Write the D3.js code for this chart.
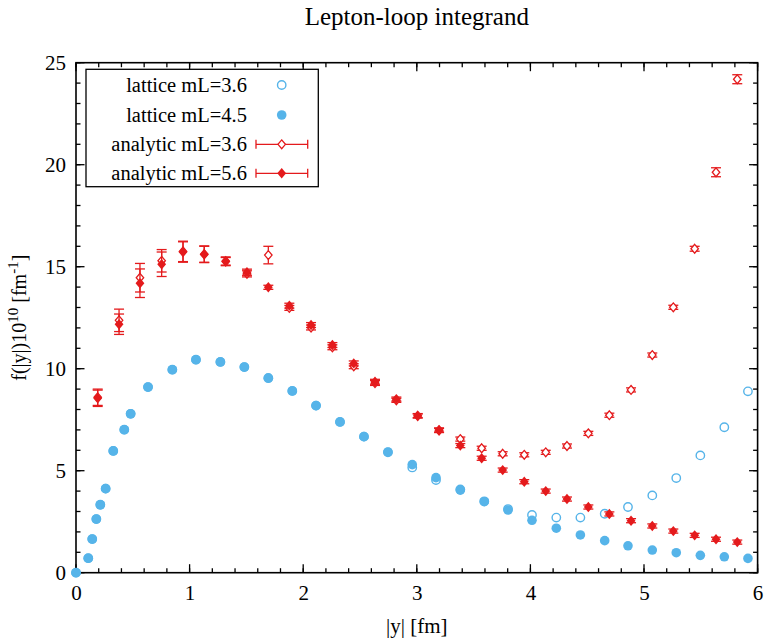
<!DOCTYPE html>
<html><head><meta charset="utf-8">
<script src="https://cdn.jsdelivr.net/npm/d3@7"></script>
<style>body{margin:0;background:#fff}svg{display:block}text{font-family:"Liberation Serif","DejaVu Serif",serif}</style>
</head><body><svg id="c" width="764" height="639"></svg>
<script>
// Lattice data
const latX = [0,0.108,0.143,0.179,0.214,0.261,0.328,0.425,0.481,0.634,0.848,1.056,1.271,1.482,1.693,1.904,2.113,2.324,2.535,2.746,2.960,3.169,3.383,3.594,3.803,4.014,4.228,4.44,4.654,4.859,5.073,5.284,5.496,5.707,5.915];
const lat45 = [0,0.71,1.65,2.63,3.33,4.12,5.97,7.01,7.79,9.10,9.95,10.44,10.33,10.08,9.53,8.91,8.19,7.39,6.67,5.92,5.30,4.66,4.05,3.48,3.07,2.57,2.18,1.85,1.57,1.32,1.11,0.98,0.85,0.78,0.70];
const lat36 = [0,0.71,1.65,2.63,3.33,4.12,5.97,7.01,7.79,9.10,9.95,10.44,10.33,10.08,9.55,8.91,8.19,7.39,6.67,5.90,5.16,4.54,4.08,3.50,3.12,2.83,2.70,2.70,2.89,3.22,3.79,4.64,5.75,7.13,8.89];
// Analytic data
const anX = [0.191,0.379,0.563,0.754,0.942,1.129,1.318,1.505,1.693,1.878,2.069,2.257,2.445,2.632,2.82,3.008,3.196,3.383,3.571,3.756,3.946,4.135,4.322,4.51,4.695,4.886,5.073,5.258,5.446,5.634,5.821];
const an36 = [8.6,12.37,14.46,15.29,15.75,15.6,15.25,14.65,15.57,12.98,12.02,11.05,10.12,9.3,8.45,7.68,6.97,6.55,6.10,5.83,5.78,5.90,6.21,6.83,7.72,8.96,10.67,13.01,15.88,19.63,24.19];
const an36err = [0.4,0.55,0.7,0.55,0.5,0.4,0.2,0.15,0.43,0.12,0.12,0.12,0.12,0.12,0.1,0.1,0.1,0.1,0.1,0.1,0.1,0.1,0.1,0.1,0.1,0.1,0.1,0.1,0.12,0.22,0.22];
const an56 = [8.55,12.18,14.19,15.12,15.72,15.62,15.28,14.73,13.99,13.09,12.14,11.16,10.26,9.36,8.51,7.70,7.00,6.23,5.61,5.03,4.46,4.00,3.61,3.22,2.88,2.55,2.29,2.04,1.83,1.64,1.50];
const an56err = [0.4,0.5,0.7,0.6,0.5,0.4,0.2,0.15,0.1,0.12,0.12,0.12,0.12,0.12,0.1,0.1,0.1,0.1,0.1,0.1,0.1,0.1,0.1,0.1,0.1,0.1,0.1,0.1,0.1,0.1,0.1];
const xTicks = [0,1,2,3,4,5,6];
const yTicks = [0,5,10,15,20,25];
const legendLabels = ["lattice mL=3.6","lattice mL=4.5","analytic mL=3.6","analytic mL=5.6"];

const BLUE = "#56b4e9", RED = "#e41a1c";
const svg = d3.select("#c");
const L = 76, R = 757.6, T = 62.7, B = 572.7;
const x = d3.scaleLinear().domain([0,6]).range([L,R]);
const y = d3.scaleLinear().domain([0,25]).range([B,T]);

// ticks (inward, mirrored)
const g = svg.append("g");
const minorX = d3.range(0,6.0001,0.2), minorY = d3.range(0,25.0001,1);
function tickLines(data, isX, len){
  data.forEach(v=>{
    if(isX){
      const px = x(v);
      g.append("line").attr("x1",px).attr("x2",px).attr("y1",B).attr("y2",B-len).attr("stroke","#000").attr("stroke-width",1.3);
      g.append("line").attr("x1",px).attr("x2",px).attr("y1",T).attr("y2",T+len).attr("stroke","#000").attr("stroke-width",1.3);
    } else {
      const py = y(v);
      g.append("line").attr("x1",L).attr("x2",L+len).attr("y1",py).attr("y2",py).attr("stroke","#000").attr("stroke-width",1.3);
      g.append("line").attr("x1",R).attr("x2",R-len).attr("y1",py).attr("y2",py).attr("stroke","#000").attr("stroke-width",1.3);
    }
  });
}
tickLines(minorX, true, 4.5);
tickLines(minorY, false, 4.5);
tickLines(xTicks, true, 8.5);
tickLines(yTicks, false, 8.5);
g.append("rect").attr("x",L).attr("y",T).attr("width",R-L).attr("height",B-T).attr("fill","none").attr("stroke","#000").attr("stroke-width",1.6);

// tick labels via d3 axes (no lines)
const xa = svg.append("g").attr("transform",`translate(0,${B})`).call(d3.axisBottom(x).tickValues(xTicks).tickSize(0).tickPadding(20).tickFormat(d3.format("d")));
xa.select(".domain").remove();
xa.selectAll("text").attr("font-size",21).attr("font-family","Liberation Serif").attr("fill","#000").attr("dy","0.35em");
const ya = svg.append("g").attr("transform",`translate(${L},0)`).call(d3.axisLeft(y).tickValues(yTicks).tickSize(0).tickPadding(10).tickFormat(d3.format("d")));
ya.select(".domain").remove();
ya.selectAll("text").attr("font-size",21).attr("font-family","Liberation Serif").attr("fill","#000");

// titles
svg.append("text").attr("x",(L+R)/2).attr("y",25).attr("text-anchor","middle").attr("font-size",25).text("Lepton-loop integrand");
svg.append("text").attr("x",(L+R)/2).attr("y",633).attr("text-anchor","middle").attr("font-size",21).text("|y| [fm]");
const yl = svg.append("text").attr("transform",`translate(26,${(T+B)/2}) rotate(-90)`).attr("text-anchor","middle").attr("font-size",20);
yl.append("tspan").text("f(|y|)10");
yl.append("tspan").attr("dy",-8).attr("font-size",15).text("10");
yl.append("tspan").attr("dy",8).text(" [fm");
yl.append("tspan").attr("dy",-8).attr("font-size",15).text("-1");
yl.append("tspan").attr("dy",8).text("]");

// marks
const plot = svg.append("g");
const diamond = (cx,cy,s)=>`M${cx},${cy-s}L${cx+s*0.85},${cy}L${cx},${cy+s}L${cx-s*0.85},${cy}Z`;
function errbars(xs, ys, es){
  xs.forEach((xv,i)=>{
    const px=x(xv), y1=y(ys[i]+es[i]), y2=y(ys[i]-es[i]);
    plot.append("line").attr("x1",px).attr("x2",px).attr("y1",y1).attr("y2",y2).attr("stroke",RED).attr("stroke-width",1.3);
    [y1,y2].forEach(yy=>plot.append("line").attr("x1",px-5).attr("x2",px+5).attr("y1",yy).attr("y2",yy).attr("stroke",RED).attr("stroke-width",1.3));
  });
}
// lattice open
plot.selectAll(".lo").data(latX.map((d,i)=>[d,lat36[i]])).join("circle").attr("cx",d=>x(d[0])).attr("cy",d=>y(d[1])).attr("r",4.2).attr("fill","none").attr("stroke",BLUE).attr("stroke-width",1.4);
// lattice filled
plot.selectAll(".lf").data(latX.map((d,i)=>[d,lat45[i]])).join("circle").attr("cx",d=>x(d[0])).attr("cy",d=>y(d[1])).attr("r",4.8).attr("fill",BLUE);
// analytic 3.6
errbars(anX, an36, an36err);
plot.selectAll(".ao").data(anX.map((d,i)=>[d,an36[i]])).join("path").attr("d",d=>diamond(x(d[0]),y(d[1]),4.4)).attr("fill","#fff").attr("stroke",RED).attr("stroke-width",1.3);
// analytic 5.6
errbars(anX, an56, an56err);
plot.selectAll(".af").data(anX.map((d,i)=>[d,an56[i]])).join("path").attr("d",d=>diamond(x(d[0]),y(d[1]),5.2)).attr("fill",RED);

// legend
const lg = svg.append("g");
lg.append("rect").attr("x",86).attr("y",69.3).attr("width",232.3).attr("height",117.4).attr("fill","#fff").attr("stroke","#000").attr("stroke-width",1.3);
const rowsY = [85,115,144.3,173.3];
legendLabels.forEach((t,i)=>{
  lg.append("text").attr("x",247).attr("y",rowsY[i]).attr("dy","0.35em").attr("text-anchor","end").attr("font-size",20.5).text(t);
});
const sx = 281.7;
lg.append("circle").attr("cx",sx).attr("cy",rowsY[0]).attr("r",4.2).attr("fill","none").attr("stroke",BLUE).attr("stroke-width",1.4);
lg.append("circle").attr("cx",sx).attr("cy",rowsY[1]).attr("r",4.8).attr("fill",BLUE);
[2,3].forEach(i=>{
  const yy=rowsY[i];
  lg.append("line").attr("x1",256).attr("x2",307.7).attr("y1",yy).attr("y2",yy).attr("stroke",RED).attr("stroke-width",1.3);
  [256,307.7].forEach(xx=>lg.append("line").attr("x1",xx).attr("x2",xx).attr("y1",yy-4.5).attr("y2",yy+4.5).attr("stroke",RED).attr("stroke-width",1.3));
});
lg.append("path").attr("d",diamond(sx,rowsY[2],4.4)).attr("fill","#fff").attr("stroke",RED).attr("stroke-width",1.3);
lg.append("path").attr("d",diamond(sx,rowsY[3],5.2)).attr("fill",RED);
</script></body></html>
